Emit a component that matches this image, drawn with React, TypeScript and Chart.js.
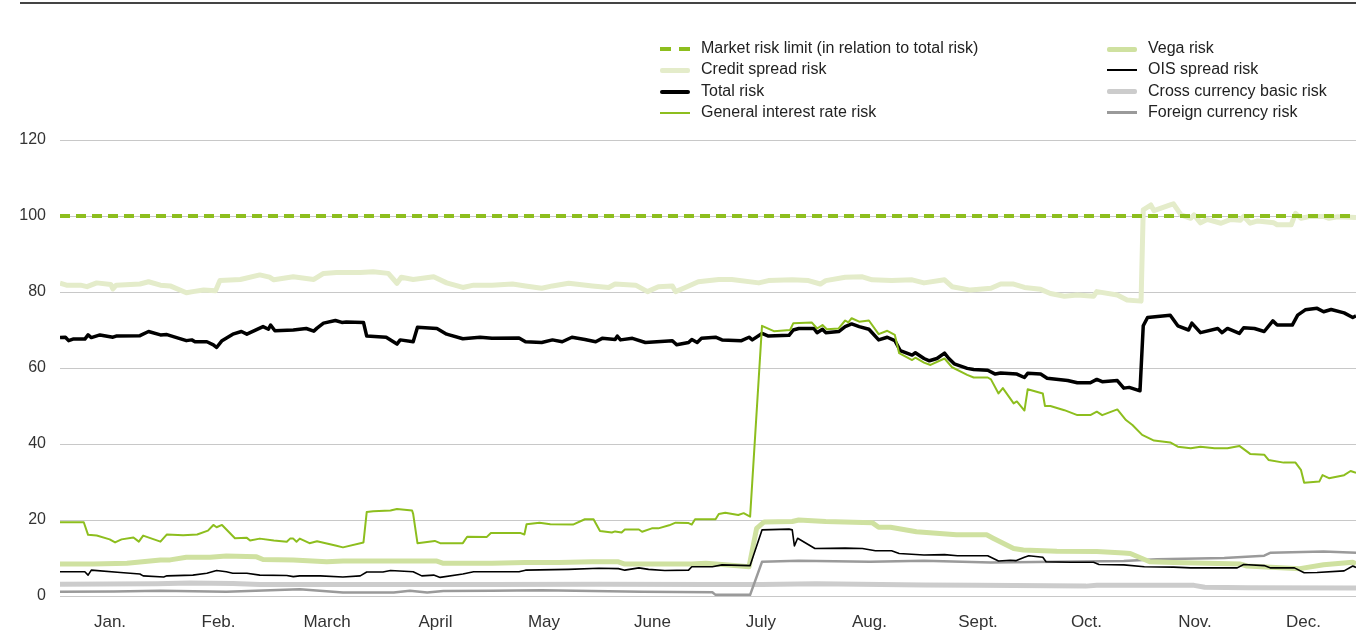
import React, { useEffect, useRef } from "react";
import { Chart, registerables } from "chart.js";

Chart.register(...registerables);

const monthLabels = ["Jan.", "Feb.", "March", "April", "May", "June", "July", "Aug.", "Sept.", "Oct.", "Nov.", "Dec."];
const yTicks = [0, 20, 40, 60, 80, 100, 120];

// [month position (0 = start of Jan, 12 = end of Dec), value]
const marketRiskLimit: [number, number][] = [[0, 100], [12, 100]];

const creditSpreadRisk: [number, number][] = [
  [0, 82.3], [0.06, 81.8], [0.19, 81.8], [0.25, 81.4], [0.34, 82.4], [0.47, 82.0], [0.49, 80.8], [0.52, 81.8], [0.74, 82.1], [0.82, 82.7], [0.93, 81.8], [1.02, 81.6],
  [1.17, 79.8], [1.23, 80.1], [1.33, 80.5], [1.44, 80.3], [1.48, 83.0], [1.67, 83.3], [1.85, 84.5], [1.94, 83.9], [1.98, 83.2], [2.16, 84.0], [2.35, 83.3],
  [2.44, 84.9], [2.56, 85.1], [2.78, 85.1], [2.9, 85.3], [3.04, 84.9], [3.12, 82.3], [3.16, 83.9], [3.27, 83.3], [3.46, 84.0], [3.58, 82.4], [3.73, 81.2],
  [3.83, 81.8], [4.0, 81.8], [4.19, 82.1], [4.31, 81.6], [4.46, 81.0], [4.56, 81.6], [4.71, 82.3], [4.93, 81.6], [5.08, 81.2], [5.14, 82.1], [5.33, 81.8],
  [5.44, 80.1], [5.54, 81.4], [5.67, 81.6], [5.7, 80.1], [5.79, 81.2], [5.91, 82.7], [6.1, 83.3], [6.22, 83.3], [6.47, 82.4], [6.56, 83.0], [6.78, 83.2],
  [6.93, 83.0], [7.04, 82.1], [7.09, 83.0], [7.27, 83.9], [7.43, 84.0], [7.52, 83.2], [7.7, 83.0], [7.89, 83.2], [8.0, 82.4], [8.19, 83.2], [8.26, 81.4],
  [8.43, 80.5], [8.62, 81.0], [8.71, 82.1], [8.83, 82.1], [8.93, 81.2], [9.08, 80.7], [9.17, 79.6], [9.3, 78.9], [9.42, 79.2], [9.57, 78.9], [9.6, 80.1],
  [9.79, 79.2], [9.88, 77.9], [10.01, 77.6], [10.03, 101.6], [10.1, 102.9], [10.13, 101.4], [10.28, 102.9], [10.31, 103.2], [10.38, 100.3], [10.47, 99.4],
  [10.5, 100.3], [10.56, 98.2], [10.62, 99.1], [10.75, 98.1], [10.84, 99.1], [10.93, 98.9], [10.96, 99.9], [11.02, 98.1], [11.09, 98.7], [11.24, 98.2],
  [11.27, 97.7], [11.4, 97.7], [11.44, 100.7], [11.49, 99.4], [11.58, 99.9], [11.7, 99.9], [11.75, 99.4], [11.83, 99.8], [12.0, 99.6],
];

const totalRisk: [number, number][] = [
  [0, 68.0], [0.05, 68.1], [0.08, 67.2], [0.12, 67.6], [0.23, 67.6], [0.26, 68.7], [0.29, 68.0], [0.37, 68.7], [0.49, 68.1], [0.52, 68.4], [0.74, 68.5],
  [0.82, 69.6], [0.93, 68.7], [0.99, 68.8], [1.17, 67.2], [1.22, 67.4], [1.25, 66.9], [1.36, 66.9], [1.42, 66.1], [1.45, 65.4], [1.5, 67.2], [1.6, 68.9],
  [1.68, 69.6], [1.73, 68.9], [1.88, 70.9], [1.93, 70.2], [1.95, 71.3], [1.99, 69.8], [2.16, 70.0], [2.28, 70.4], [2.35, 69.7], [2.38, 70.5], [2.44, 71.8],
  [2.55, 72.5], [2.61, 72.0], [2.65, 72.1], [2.81, 72.0], [2.84, 68.4], [3.02, 68.1], [3.12, 66.3], [3.15, 67.4], [3.27, 66.9], [3.31, 70.7], [3.49, 70.4],
  [3.58, 68.9], [3.73, 67.7], [3.89, 68.1], [4.0, 67.8], [4.25, 67.9], [4.31, 66.9], [4.46, 66.7], [4.56, 67.4], [4.65, 66.9], [4.74, 68.1], [4.86, 67.5],
  [4.96, 66.9], [5.02, 67.8], [5.14, 67.5], [5.16, 68.4], [5.19, 67.4], [5.3, 67.8], [5.42, 66.7], [5.67, 67.2], [5.71, 66.1], [5.82, 66.7], [5.85, 67.5],
  [5.9, 66.7], [5.94, 67.8], [6.07, 68.1], [6.13, 67.4], [6.31, 67.2], [6.38, 68.1], [6.41, 67.4], [6.5, 69.1], [6.56, 68.4], [6.75, 68.6], [6.79, 70.0],
  [6.84, 70.4], [6.98, 70.4], [7.01, 69.3], [7.06, 70.2], [7.09, 69.3], [7.21, 69.6], [7.27, 70.9], [7.33, 71.6], [7.4, 70.9], [7.49, 70.2], [7.58, 67.4],
  [7.66, 68.1], [7.73, 67.2], [7.78, 64.6], [7.89, 63.4], [7.92, 64.0], [8.0, 62.5], [8.05, 61.9], [8.12, 62.5], [8.19, 63.9], [8.23, 62.5], [8.28, 61.1],
  [8.4, 59.9], [8.46, 59.6], [8.59, 59.4], [8.66, 58.4], [8.71, 58.7], [8.86, 58.4], [8.93, 57.5], [8.96, 58.6], [9.08, 58.4], [9.14, 57.3], [9.33, 56.7],
  [9.42, 56.1], [9.54, 56.1], [9.6, 57.0], [9.65, 56.4], [9.79, 56.7], [9.85, 54.7], [9.9, 54.9], [10.0, 54.0], [10.03, 71.1], [10.07, 73.3], [10.28, 73.9],
  [10.35, 71.1], [10.45, 70.0], [10.48, 71.8], [10.56, 69.3], [10.72, 70.4], [10.76, 69.3], [10.81, 70.4], [10.92, 69.1], [10.96, 70.6], [11.06, 70.4],
  [11.15, 69.6], [11.23, 72.4], [11.27, 71.3], [11.41, 71.3], [11.46, 73.9], [11.53, 75.3], [11.64, 75.7], [11.7, 74.8], [11.77, 75.4], [11.89, 74.5],
  [11.97, 73.3], [12.0, 73.7],
];

const generalInterestRateRisk: [number, number][] = [
  [0, 19.4], [0.22, 19.4], [0.26, 16.1], [0.34, 15.9], [0.46, 14.9], [0.51, 14.1], [0.57, 14.9], [0.68, 15.4], [0.73, 14.3], [0.77, 15.9], [0.93, 14.3],
  [0.99, 16.2], [1.14, 16.0], [1.27, 16.2], [1.37, 17.2], [1.42, 18.7], [1.45, 18.1], [1.5, 18.7], [1.62, 15.2], [1.73, 15.3], [1.76, 14.6], [1.85, 15.1],
  [1.98, 14.6], [2.1, 14.3], [2.13, 15.1], [2.16, 15.1], [2.19, 14.3], [2.22, 15.1], [2.31, 13.9], [2.38, 14.4], [2.56, 13.2], [2.62, 12.8], [2.81, 14.1],
  [2.84, 22.1], [2.9, 22.3], [3.06, 22.5], [3.12, 22.9], [3.26, 22.5], [3.27, 21.6], [3.31, 13.9], [3.47, 14.5], [3.52, 13.9], [3.73, 13.9], [3.77, 15.6],
  [3.95, 15.5], [3.99, 16.6], [4.26, 16.6], [4.3, 16.2], [4.32, 18.9], [4.44, 19.3], [4.54, 18.9], [4.75, 18.8], [4.86, 20.2], [4.94, 20.2], [5.0, 17.1],
  [5.11, 16.7], [5.14, 17.0], [5.2, 16.7], [5.23, 17.5], [5.36, 17.5], [5.39, 16.9], [5.48, 17.8], [5.54, 17.8], [5.64, 18.6], [5.7, 19.3], [5.82, 19.2],
  [5.85, 18.8], [5.88, 20.2], [6.07, 20.2], [6.1, 21.6], [6.16, 21.9], [6.28, 21.3], [6.33, 21.8], [6.39, 20.9], [6.5, 71.1], [6.61, 69.7], [6.76, 70.0],
  [6.79, 71.8], [6.96, 72.0], [7.01, 70.4], [7.06, 71.3], [7.1, 70.2], [7.21, 70.4], [7.27, 72.5], [7.3, 72.0], [7.33, 73.1], [7.4, 72.2], [7.49, 72.5],
  [7.58, 68.9], [7.66, 69.8], [7.73, 68.7], [7.77, 63.9], [7.89, 62.1], [7.92, 62.7], [8.0, 61.4], [8.06, 60.8], [8.19, 62.5], [8.26, 60.2], [8.4, 58.2],
  [8.46, 57.5], [8.59, 57.5], [8.62, 57.0], [8.69, 53.3], [8.73, 54.7], [8.83, 50.7], [8.86, 51.2], [8.93, 48.8], [8.96, 54.4], [9.1, 53.3], [9.12, 50.0],
  [9.17, 50.0], [9.3, 48.9], [9.42, 47.6], [9.54, 47.6], [9.6, 48.5], [9.65, 47.6], [9.79, 49.1], [9.87, 46.3], [9.93, 45.0], [10.02, 42.4], [10.13, 40.9],
  [10.28, 40.4], [10.35, 39.3], [10.47, 38.9], [10.56, 39.3], [10.69, 38.9], [10.81, 38.9], [10.92, 39.5], [11.02, 37.4], [11.15, 37.2], [11.19, 35.8],
  [11.33, 35.1], [11.44, 35.1], [11.49, 33.2], [11.52, 29.8], [11.66, 30.1], [11.69, 31.8], [11.75, 31.0], [11.89, 31.8], [11.95, 32.9], [12.0, 32.4],
];

const vegaRisk: [number, number][] = [
  [0, 8.4], [0.31, 8.4], [0.62, 8.6], [0.93, 9.5], [1.02, 9.5], [1.17, 10.2], [1.39, 10.2], [1.54, 10.5], [1.82, 10.3], [1.88, 9.6], [2.16, 9.5], [2.47, 9.0],
  [2.62, 9.2], [3.09, 9.2], [3.49, 9.2], [3.55, 8.6], [4.0, 8.6], [4.31, 8.8], [4.62, 8.8], [4.93, 9.0], [5.17, 9.0], [5.23, 8.4], [5.85, 8.4], [5.98, 8.6],
  [6.16, 8.2], [6.38, 7.7], [6.45, 17.8], [6.52, 19.5], [6.78, 19.6], [6.84, 20.0], [7.09, 19.6], [7.52, 19.3], [7.58, 18.1], [7.69, 18.1], [7.93, 16.9],
  [8.3, 16.1], [8.58, 16.1], [8.64, 15.2], [8.83, 12.5], [8.92, 12.1], [9.23, 11.8], [9.6, 11.7], [9.85, 11.3], [9.91, 11.2], [10.09, 9.0], [10.31, 8.8],
  [10.93, 8.4], [10.99, 7.9], [11.48, 7.2], [11.7, 8.2], [11.97, 8.9], [12.0, 8.5],
];

const oisSpreadRisk: [number, number][] = [
  [0, 6.4], [0.23, 6.4], [0.26, 5.5], [0.29, 6.8], [0.56, 6.2], [0.74, 5.8], [0.77, 5.3], [0.96, 5.0], [0.99, 5.3], [1.23, 5.5], [1.36, 6.0], [1.45, 6.7],
  [1.54, 6.4], [1.6, 6.0], [1.73, 6.0], [1.85, 5.5], [2.1, 5.4], [2.16, 5.1], [2.22, 5.3], [2.41, 5.3], [2.62, 5.0], [2.78, 5.3], [2.84, 6.3], [2.99, 6.3],
  [3.06, 6.7], [3.27, 6.4], [3.35, 5.3], [3.46, 5.5], [3.52, 4.9], [3.73, 5.8], [3.83, 6.4], [4.0, 6.4], [4.25, 6.4], [4.31, 6.8], [4.71, 7.0], [4.99, 7.3],
  [5.17, 7.2], [5.23, 6.8], [5.36, 7.4], [5.45, 7.0], [5.6, 6.7], [5.82, 6.8], [5.85, 7.7], [6.04, 7.7], [6.13, 8.2], [6.39, 8.0], [6.5, 17.4], [6.75, 17.6],
  [6.78, 17.4], [6.8, 13.2], [6.83, 15.2], [6.99, 12.5], [7.27, 12.6], [7.43, 12.5], [7.55, 11.9], [7.7, 11.9], [7.77, 11.2], [8.0, 10.8], [8.19, 10.9],
  [8.31, 10.6], [8.59, 10.6], [8.69, 9.2], [8.8, 9.4], [8.85, 9.3], [8.93, 10.2], [8.97, 10.6], [9.1, 10.2], [9.13, 9.0], [9.36, 8.9], [9.57, 8.9], [9.62, 8.3],
  [9.85, 8.2], [10.04, 7.7], [10.31, 7.6], [10.47, 7.4], [10.78, 7.4], [10.9, 7.4], [10.96, 8.3], [11.15, 8.0], [11.21, 7.4], [11.43, 7.4], [11.52, 6.1],
  [11.64, 6.2], [11.89, 6.6], [11.97, 7.9], [12.0, 7.5],
];

const crossCurrencyBasicRisk: [number, number][] = [
  [0, 3.1], [0.9, 3.2], [1.2, 3.4], [1.6, 3.3], [1.85, 3.0], [3.0, 3.0], [4.0, 3.0], [5.0, 3.1], [6.0, 3.0], [6.5, 3.0], [7.0, 3.2], [8.0, 2.9], [8.5, 2.8],
  [9.5, 2.6], [9.6, 2.8], [10.5, 2.8], [10.6, 2.3], [11.0, 2.2], [12.0, 2.1],
];

const foreignCurrencyRisk: [number, number][] = [
  [0, 1.1], [0.5, 1.2], [0.93, 1.4], [1.54, 1.1], [2.22, 1.8], [2.62, 0.9], [3.09, 0.9], [3.24, 1.4], [3.4, 0.9], [3.55, 1.3], [4.0, 1.4], [4.46, 1.5],
  [5.39, 1.1], [6.04, 1.0], [6.07, 0.3], [6.39, 0.3], [6.5, 9.0], [6.84, 9.3], [7.5, 9.0], [8.0, 9.3], [8.62, 8.8], [9.85, 9.2], [10.16, 9.7], [10.78, 10.0],
  [11.15, 10.6], [11.21, 11.4], [11.7, 11.7], [12.0, 11.4],
];

const GREEN = "#8dbe1e";
const CREDIT = "#e4ecca";
const VEGA = "#cfe1a0";
const CROSS = "#cccccc";
const FOREIGN = "#9a9a9a";
const FONT = "'Liberation Sans', Arial, sans-serif";

type LegendItem = { label: string; color: string; width: number; dashed?: boolean };
const legendLeft: LegendItem[] = [
  { label: "Market risk limit (in relation to total risk)", color: GREEN, width: 4, dashed: true },
  { label: "Credit spread risk", color: CREDIT, width: 5 },
  { label: "Total risk", color: "#000000", width: 4 },
  { label: "General interest rate risk", color: GREEN, width: 2 },
];
const legendRight: LegendItem[] = [
  { label: "Vega risk", color: VEGA, width: 5 },
  { label: "OIS spread risk", color: "#000000", width: 2 },
  { label: "Cross currency basic risk", color: CROSS, width: 5 },
  { label: "Foreign currency risk", color: FOREIGN, width: 3 },
];

const toXY = (arr: [number, number][]) => arr.map(([x, y]) => ({ x, y }));

function LegendColumn({ items, left, textLeft }: { items: LegendItem[]; left: number; textLeft: number }) {
  return (
    <>
      {items.map((it, i) => {
        const cy = 49 + i * 21.3;
        return (
          <React.Fragment key={it.label}>
            {it.dashed ? (
              <>
                <div style={{ position: "absolute", left, top: cy - it.width / 2, width: 11, height: it.width, background: it.color }} />
                <div style={{ position: "absolute", left: left + 19, top: cy - it.width / 2, width: 11, height: it.width, background: it.color }} />
              </>
            ) : (
              <div style={{ position: "absolute", left, top: cy - it.width / 2, width: 30, height: it.width, background: it.color, borderRadius: it.width > 3 ? 2 : 0 }} />
            )}
            <div
              style={{
                position: "absolute",
                left: textLeft,
                top: cy - 11,
                height: 20,
                lineHeight: "20px",
                fontFamily: FONT,
                fontSize: 16,
                color: "#222",
                whiteSpace: "nowrap",
              }}
            >
              {it.label}
            </div>
          </React.Fragment>
        );
      })}
    </>
  );
}

export default function App() {
  const canvasRef = useRef<HTMLCanvasElement | null>(null);

  useEffect(() => {
    document.body.style.margin = "0";
    const canvas = canvasRef.current;
    if (!canvas) return;
    const line = (label: string, data: [number, number][], color: string, width: number, order: number, extra: any = {}) => ({
      label,
      data: toXY(data),
      borderColor: color,
      backgroundColor: color,
      borderWidth: width,
      pointRadius: 0,
      tension: 0,
      fill: false,
      order,
      borderJoinStyle: "round",
      borderCapStyle: "butt",
      ...extra,
    });
    const chart = new Chart(canvas, {
      type: "line",
      data: {
        datasets: [
          line("Market risk limit (in relation to total risk)", marketRiskLimit, GREEN, 4, 0, { borderDash: [10, 6] }),
          line("General interest rate risk", generalInterestRateRisk, GREEN, 2, 1),
          line("Total risk", totalRisk, "#000000", 3.5, 2),
          line("OIS spread risk", oisSpreadRisk, "#000000", 1.6, 3),
          line("Vega risk", vegaRisk, VEGA, 5, 4),
          line("Credit spread risk", creditSpreadRisk, CREDIT, 5, 5),
          line("Foreign currency risk", foreignCurrencyRisk, FOREIGN, 2.5, 6),
          line("Cross currency basic risk", crossCurrencyBasicRisk, CROSS, 5, 7),
        ] as any,
      },
      options: {
        animation: false,
        responsive: false,
        events: [],
        layout: { padding: { top: 140, right: 4, left: 0, bottom: 0 } },
        plugins: { legend: { display: false }, tooltip: { enabled: false }, title: { display: false } },
        scales: {
          x: {
            type: "linear",
            min: 0,
            max: 12,
            afterBuildTicks: (scale: any) => {
              scale.ticks = monthLabels.map((_, i) => ({ value: 0.463 + i * 1.0046 }));
            },
            afterFit: (scale: any) => {
              scale.height = 38;
            },
            ticks: {
              autoSkip: false,
              maxRotation: 0,
              padding: 16,
              color: "#333",
              font: { family: FONT, size: 17 },
              callback: (v: any) => monthLabels[Math.floor(Number(v))] ?? "",
            },
            grid: { display: false, drawTicks: false },
            border: { display: false },
          },
          y: {
            type: "linear",
            min: 0,
            max: 120,
            afterBuildTicks: (scale: any) => {
              scale.ticks = yTicks.map((v) => ({ value: v }));
            },
            afterFit: (scale: any) => {
              scale.width = 60;
            },
            ticks: {
              padding: 14,
              color: "#333",
              font: { family: FONT, size: 16 },
            },
            grid: { color: "#c8c8c8", lineWidth: 1, drawTicks: false },
            border: { display: false },
          },
        },
      } as any,
    });
    return () => chart.destroy();
  }, []);

  return (
    <div style={{ position: "relative", width: 1360, height: 634, background: "#fff", overflow: "hidden" }}>
      <div style={{ position: "absolute", left: 20, top: 2, width: 1336, height: 2, background: "#444" }} />
      <canvas ref={canvasRef} width={1360} height={634} style={{ position: "absolute", left: 0, top: 0, display: "block" }} />
      <LegendColumn items={legendLeft} left={660} textLeft={701} />
      <LegendColumn items={legendRight} left={1107} textLeft={1148} />
    </div>
  );
}
